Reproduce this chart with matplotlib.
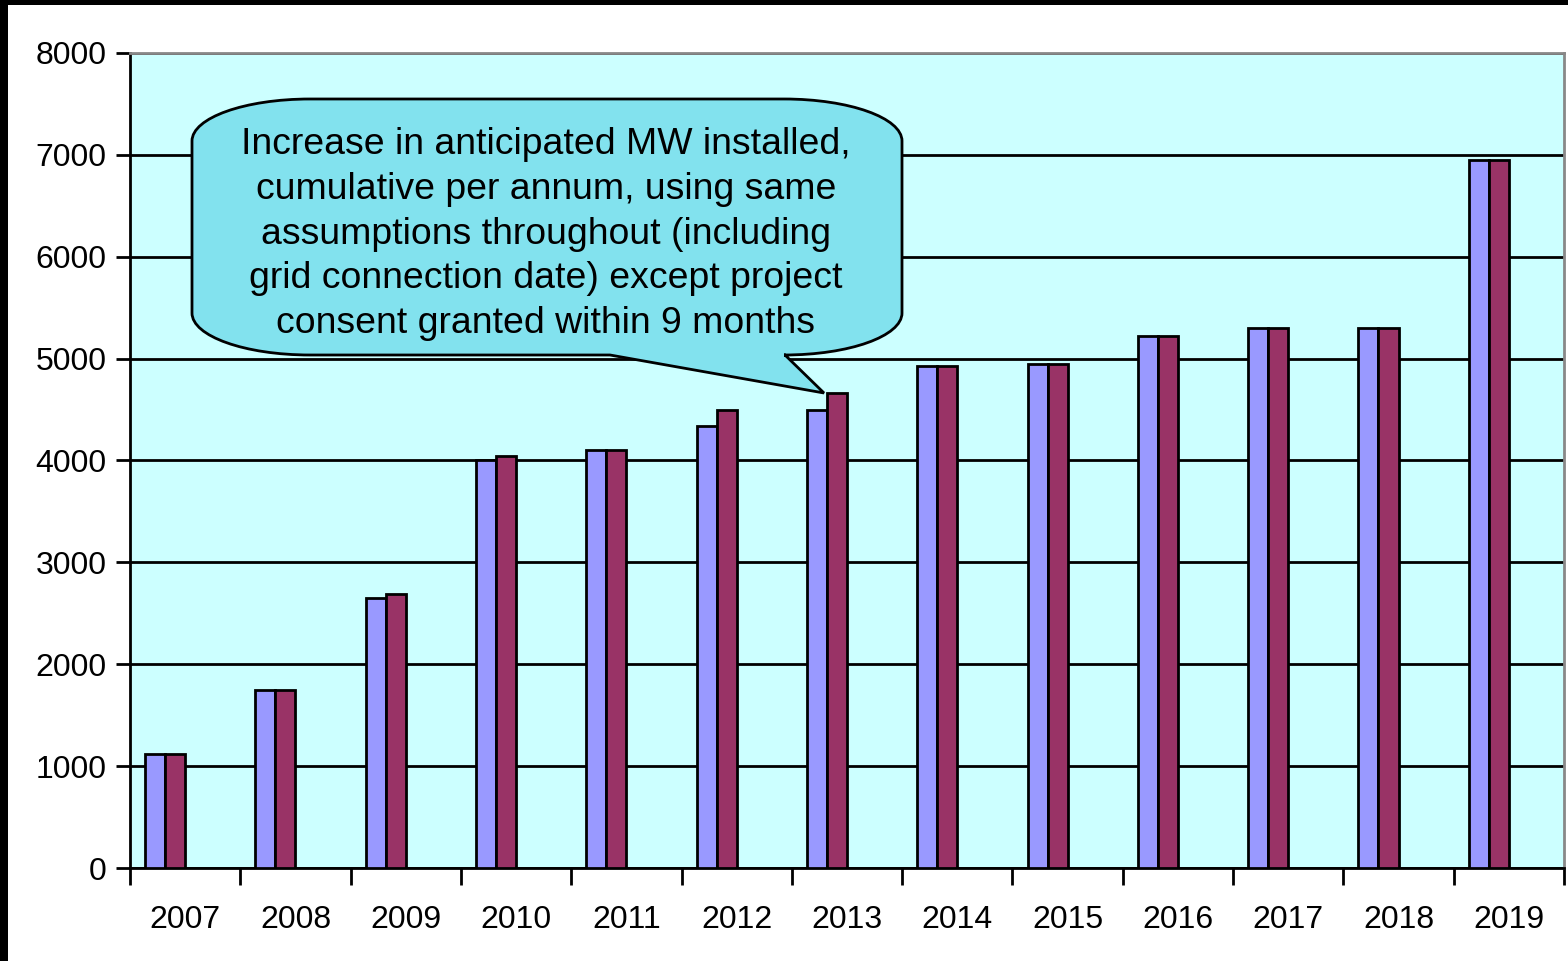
import matplotlib
matplotlib.use("Agg")
import matplotlib.pyplot as plt
from matplotlib.path import Path
from matplotlib.patches import PathPatch, Rectangle
from matplotlib.transforms import Affine2D
import numpy as np

years = ["2007", "2008", "2009", "2010", "2011", "2012", "2013",
         "2014", "2015", "2016", "2017", "2018", "2019"]
series_a = [1120, 1750, 2650, 4000, 4100, 4340, 4500, 4930, 4950, 5220, 5300, 5300, 6950]
series_b = [1120, 1750, 2690, 4040, 4100, 4500, 4660, 4930, 4950, 5220, 5300, 5300, 6950]
yticks = [0, 1000, 2000, 3000, 4000, 5000, 6000, 7000, 8000]
callout_text = ("Increase in anticipated MW installed,\n"
                "cumulative per annum, using same\n"
                "assumptions throughout (including\n"
                "grid connection date) except project\n"
                "consent granted within 9 months")

plt.rcParams['font.family'] = ['Liberation Sans', 'DejaVu Sans']

W, H = 1568, 961
fig = plt.figure(figsize=(W / 100, H / 100), dpi=100)
fig.patch.set_facecolor("white")

ax = fig.add_axes([130 / W, 1 - 868 / H, (1564 - 130) / W, (868 - 53) / H])
ax.set_facecolor("#CCFFFF")

x = np.arange(len(years))
w = 20 / 110
ax.bar(x - 1.5 * w, series_a, width=w, color="#9999FF", edgecolor="black", linewidth=2, zorder=3)
ax.bar(x - 0.5 * w, series_b, width=w, color="#993366", edgecolor="black", linewidth=2, zorder=3)

ax.set_xlim(-0.5, len(years) - 0.5)
ax.set_ylim(0, 8000)
ax.set_yticks(yticks)
ax.set_yticklabels([str(v) for v in yticks], fontsize=23)
ax.yaxis.grid(True, color="black", linewidth=2, zorder=1)
ax.set_axisbelow(True)

ax.set_xticks(x)
ax.set_xticklabels(years, fontsize=23)
ax.set_xticks(np.arange(-0.5, len(years), 1.0), minor=True)
ax.tick_params(axis="x", which="major", length=0, pad=27)
ax.tick_params(axis="x", which="minor", length=12, width=2, direction="out", color="black")
ax.tick_params(axis="y", length=10, width=2, direction="out", pad=7)

for s in ["left", "bottom"]:
    ax.spines[s].set_color("black")
    ax.spines[s].set_linewidth(2)
for s in ["top", "right"]:
    ax.spines[s].set_color("#888888")
    ax.spines[s].set_linewidth(2)

# Callout bubble in figure pixel coords (y down)
pix = Affine2D().scale(1 / W, -1 / H).translate(0, 1) + fig.transFigure
L, R, T, B = 192, 902, 99, 355
rx, ry = 118, 42
k = 0.5523
tip = (824, 393)
b1, b2 = 610, 785
verts = [
    (L, T + ry),
    (L, T + ry - k * ry), (L + rx - k * rx, T), (L + rx, T),
    (R - rx, T),
    (R - rx + k * rx, T), (R, T + ry - k * ry), (R, T + ry),
    (R, B - ry),
    (R, B - ry + k * ry), (R - rx + k * rx, B), (R - rx, B),
    (b2, B),
    tip,
    (b1, B),
    (L + rx, B),
    (L + rx - k * rx, B), (L, B - ry + k * ry), (L, B - ry),
    (L, T + ry),
]
codes = [Path.MOVETO,
         Path.CURVE4, Path.CURVE4, Path.CURVE4,
         Path.LINETO,
         Path.CURVE4, Path.CURVE4, Path.CURVE4,
         Path.LINETO,
         Path.CURVE4, Path.CURVE4, Path.CURVE4,
         Path.LINETO, Path.LINETO, Path.LINETO, Path.LINETO,
         Path.CURVE4, Path.CURVE4, Path.CURVE4,
         Path.CLOSEPOLY]
bubble = PathPatch(Path(verts, codes), transform=pix, facecolor="#82E2EE",
                   edgecolor="black", linewidth=2, zorder=10)
fig.add_artist(bubble)
fig.text(546 / W, 1 - 234 / H, callout_text, ha="center", va="center",
         fontsize=26.9, linespacing=1.36, zorder=11)

# black frame edges
fig.add_artist(Rectangle((0, 0), 8 / W, 1, transform=fig.transFigure,
                         facecolor="black", edgecolor="none", zorder=20))
fig.add_artist(Rectangle((0, 1 - 5 / H), 1, 5 / H, transform=fig.transFigure,
                         facecolor="black", edgecolor="none", zorder=20))

fig.savefig("out.png", dpi=100)
